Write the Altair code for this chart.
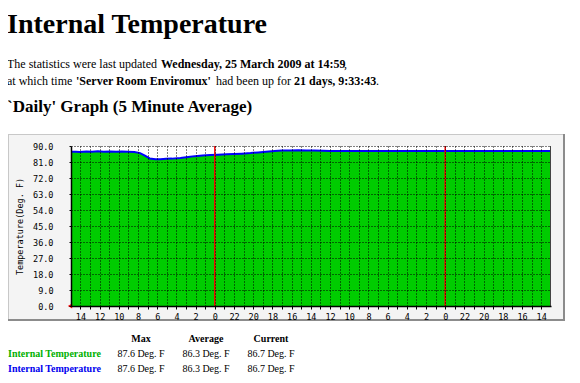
import json
import altair as alt
import pandas as pd

# ---------------- data ----------------
hours_ago = [0, 0.5, 0.9, 1.6, 2.2, 2.8, 3.4, 4.1, 4.7, 5.3,
             5.9, 6.6, 7.2, 7.7, 8.2, 8.8, 9.3, 9.9, 10.5, 11.4,
             12.2, 12.9, 13.7, 14.5, 15.3, 16.2, 17.0, 17.8, 18.7, 19.5,
             20.3, 21.2, 22.0, 22.8, 23.7, 24.5, 25.3, 26.2, 27.0, 30,
             34, 38, 42, 46, 50]
temps = [86.7, 86.8, 86.6, 86.9, 86.8, 87.0, 86.8, 86.9, 86.7, 86.9,
         86.8, 86.6, 86.0, 84.6, 83.0, 82.6, 82.6, 82.8, 82.9, 83.3,
         83.8, 84.3, 84.6, 84.9, 85.1, 85.3, 85.5, 85.7, 86.0, 86.4,
         86.8, 87.2, 87.4, 87.4, 87.6, 87.5, 87.4, 87.3, 87.2, 87.2,
         87.2, 87.2, 87.2, 87.2, 87.2]

NOW_HOUR, NOW_MIN = 14, 59
SPAN_HOURS = 50
y_ticks = [0, 9, 18, 27, 36, 45, 54, 63, 72, 81, 90]
hour_labels = [14, 12, 10, 8, 6, 4, 2, 0, 22, 20, 18, 16, 14, 12, 10, 8, 6, 4, 2, 0, 22, 20, 18, 16, 14]
midnight_days_back = [0, 1]

stat_headers = ["Max", "Average", "Current"]
stat_values = ["87.6 Deg. F", "86.3 Deg. F", "86.7 Deg. F"]
series_names = ["Internal Temperature", "Internal Temperature"]
series_colors = ["#00b000", "#0000ee"]

# ------------- derived ----------------
frac = NOW_MIN / 60.0
tick_pos = [frac + k for k in range(len(hour_labels) * 2 - 1)]
labels_by_k = []
for k in range(len(tick_pos)):
    labels_by_k.append(str(hour_labels[k // 2]) if k % 2 == 0 else "")
label_expr = f"{json.dumps(labels_by_k)}[round(datum.value - {frac})]"

df = pd.DataFrame({"h": hours_ago, "t": temps})
midn = pd.DataFrame({"h": [NOW_HOUR + frac + 24 * d for d in midnight_days_back]})

SERIF = "Liberation Serif"
MONO = "DejaVu Sans Mono"
X0, Y0 = 71, 146  # page position of plot origin

x_enc = alt.X("h:Q", title=None,
              scale=alt.Scale(domain=[0, SPAN_HOURS], nice=False, zero=False),
              axis=alt.Axis(values=tick_pos, labelExpr=label_expr, grid=True,
                            gridColor="black", gridDash=[1, 2], gridOpacity=1,
                            domainColor="black", domainWidth=1.5, tickColor="black",
                            tickSize=3, labelFont=MONO, labelFontSize=8.5,
                            labelColor="black", labelPadding=3, labelFlush=False,
                            labelOverlap=False, labelBound=False, zindex=1))
y_enc = alt.Y("t:Q", title="Temperature(Deg. F)",
              scale=alt.Scale(domain=[0, 90], nice=False, zero=True),
              axis=alt.Axis(values=y_ticks, format=".1f", grid=True,
                            gridColor="black", gridDash=[1, 2], gridOpacity=1,
                            domainColor="black", domainWidth=1.5, tickColor="black",
                            tickSize=2, labelFont=MONO, labelFontSize=8.5,
                            labelColor="black", labelPadding=16, labelFlush=False,
                            labelOverlap=False, titleFont=MONO, titleFontSize=8.5,
                            titleFontWeight="normal", titleColor="black",
                            titleAngle=-90, titleX=-52, titleY=80,
                            titleAlign="center", titleBaseline="middle", zindex=1))


def one():
    return pd.DataFrame({"k": [0]})


def txt(s, px, py, size=12, weight="normal", color="black", align="left", font=SERIF):
    return alt.Chart(pd.DataFrame({"s": [s]})).mark_text(
        align=align, baseline="alphabetic", font=font, fontSize=size,
        fontWeight=weight, color=color
    ).encode(text="s:N", x=alt.value(px - X0), y=alt.value(py - Y0))


def box(px1, py1, px2, py2, fill):
    return alt.Chart(one()).mark_rect(fill=fill).encode(
        x=alt.value(px1 - X0), x2=alt.value(px2 - X0),
        y=alt.value(py1 - Y0), y2=alt.value(py2 - Y0))


panel = box(8, 134, 564, 320, "#f4f4f4")
panel_top = box(8, 134, 564, 135, "#c8c8c8")
panel_left = box(8, 134, 9, 320, "#c8c8c8")
panel_bot = box(8, 319, 564, 321, "#8c8c8c")
panel_right = box(563, 134, 565, 321, "#8c8c8c")
plotbg = box(X0, Y0, 551, 306, "white")
right_edge = box(550, Y0, 551, 306, "#444444")

area = alt.Chart(df).mark_area(color="#00cc00", opacity=1).encode(x=x_enc, y=y_enc)
line = alt.Chart(df).mark_line(color="#0000ff", strokeWidth=2).encode(x=x_enc, y=y_enc)
rules = alt.Chart(midn).mark_rule(color="#ff0000", strokeWidth=1.5).encode(x=x_enc)
arrow = alt.Chart(one()).mark_point(shape="triangle-left", filled=True, color="#ff0000",
                                    size=25, opacity=1).encode(
    x=alt.value(-1), y=alt.value(160))

texts = [
    txt("Internal Temperature", 7, 33, size=28, weight="bold"),
    txt("The statistics were last updated", 7, 68),
    txt("Wednesday, 25 March 2009 at 14:59", 161, 68, weight="bold"),
    txt(",", 344, 68),
    txt("at which time", 7, 85),
    txt("'Server Room Enviromux'", 76, 85, weight="bold"),
    txt("had been up for", 216, 85),
    txt("21 days, 9:33:43", 294, 85, weight="bold"),
    txt(".", 376, 85),
    txt("`Daily' Graph (5 Minute Average)", 7, 112, size=17, weight="bold"),
]
col_centers = [141, 206, 271]
for hdr, cx in zip(stat_headers, col_centers):
    texts.append(txt(hdr, cx, 342, size=10, weight="bold", align="center"))
for i, (name, col) in enumerate(zip(series_names, series_colors)):
    yb = 357 + 15 * i
    texts.append(txt(name, 8, yb, size=10, weight="bold", color=col))
    for val, cx in zip(stat_values, col_centers):
        texts.append(txt(val, cx, yb, size=10, align="center"))

chart = alt.layer(
    panel, panel_top, panel_left, panel_bot, panel_right, plotbg,
    area, line, rules, right_edge, arrow, *texts
).properties(
    width=480, height=160, autosize="none",
    padding={"left": 63, "top": 138, "right": 21, "bottom": 69},
    background="white",
).configure_view(stroke=None)

chart.save("out.html", embed_options={"renderer": "svg", "actions": False})
